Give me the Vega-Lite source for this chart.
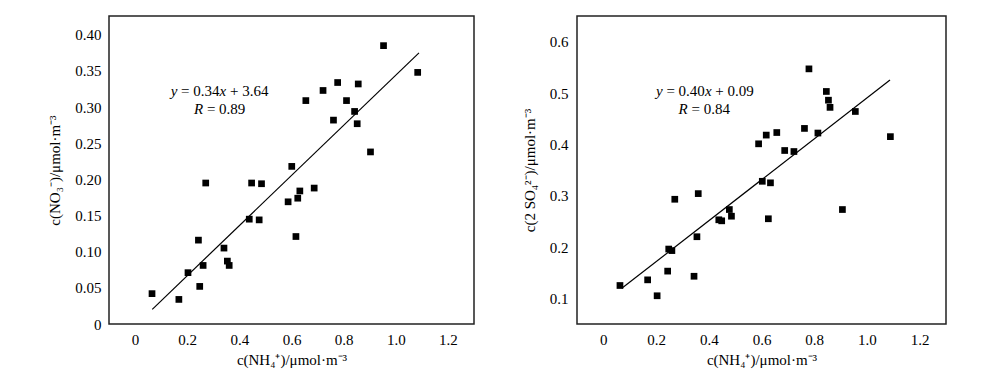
{
  "$schema": "https://vega.github.io/schema/vega-lite/v6.json",
  "padding": {"left": 47, "top": 15, "right": 5, "bottom": 5},
  "spacing": 46,
  "background": "white",
  "config": {
    "font": "Liberation Serif",
    "view": {"stroke": "#222", "strokeWidth": 1.5},
    "text": {"font": "Liberation Serif", "fontSize": 15, "color": "#000", "align": "left", "baseline": "alphabetic"},
    "axis": {
      "domain": false, "grid": false, "ticks": false,
      "labelPadding": 8, "labelFontSize": 15, "labelColor": "#000", "labelFont": "Liberation Serif",
      "titleFont": "Liberation Serif", "titleFontSize": 15, "titleFontWeight": "normal", "titleColor": "#000", "titlePadding": 12
    }
  },
  "hconcat": [
    {
      "width": 365, "height": 308,
      "encoding": {
        "x": {"field": "x", "type": "quantitative", "scale": {"domain": [-0.1, 1.3], "nice": false, "zero": false},
              "axis": {"title": "c(NH₄⁺)/μmol·m⁻³", "values": [0, 0.2, 0.4, 0.6, 0.8, 1.0, 1.2], "labelExpr": "datum.value == 0 ? '0' : format(datum.value, '.1f')", "titlePadding": 5}},
        "y": {"field": "y", "type": "quantitative", "scale": {"domain": [0, 0.426], "nice": false, "zero": false},
              "axis": {"title": "c(NO₃⁻)/μmol·m⁻³", "values": [0, 0.05, 0.1, 0.15, 0.2, 0.25, 0.3, 0.35, 0.4], "labelExpr": "datum.value == 0 ? '0' : format(datum.value, '.2f')"}}
      },
      "layer": [
        {
          "data": {"values": [{"y": 0}, {"y": 0.05}, {"y": 0.1}, {"y": 0.15}, {"y": 0.2}, {"y": 0.25}, {"y": 0.3}, {"y": 0.35}, {"y": 0.4}]},
          "mark": {"type": "rule", "color": "#000", "strokeWidth": 1.4},
          "encoding": {"x": {"datum": -0.1, "type": "quantitative"}, "x2": {"datum": -0.0732}}
        },
        {
          "data": {"values": [{"x": 0}, {"x": 0.2}, {"x": 0.4}, {"x": 0.6}, {"x": 0.8}, {"x": 1.0}, {"x": 1.2}]},
          "mark": {"type": "rule", "color": "#000", "strokeWidth": 1.4},
          "encoding": {"y": {"datum": 0, "type": "quantitative"}, "y2": {"datum": 0.00968}}
        },
        {
          "data": {"values": [
            {"x": 0.065, "y": 0.042}, {"x": 0.168, "y": 0.034}, {"x": 0.203, "y": 0.071}, {"x": 0.248, "y": 0.052},
            {"x": 0.243, "y": 0.116}, {"x": 0.261, "y": 0.081}, {"x": 0.271, "y": 0.195}, {"x": 0.341, "y": 0.105},
            {"x": 0.354, "y": 0.087}, {"x": 0.361, "y": 0.081}, {"x": 0.438, "y": 0.145}, {"x": 0.447, "y": 0.195},
            {"x": 0.476, "y": 0.144}, {"x": 0.485, "y": 0.194}, {"x": 0.587, "y": 0.169}, {"x": 0.601, "y": 0.218},
            {"x": 0.617, "y": 0.121}, {"x": 0.624, "y": 0.174}, {"x": 0.632, "y": 0.184}, {"x": 0.687, "y": 0.188},
            {"x": 0.655, "y": 0.309}, {"x": 0.721, "y": 0.323}, {"x": 0.761, "y": 0.282}, {"x": 0.777, "y": 0.334},
            {"x": 0.811, "y": 0.309}, {"x": 0.842, "y": 0.294}, {"x": 0.852, "y": 0.277}, {"x": 0.856, "y": 0.332},
            {"x": 0.903, "y": 0.238}, {"x": 0.953, "y": 0.385}, {"x": 1.084, "y": 0.348}
          ]},
          "mark": {"type": "point", "shape": "square", "filled": true, "color": "#000", "opacity": 1, "size": 45}
        },
        {
          "data": {"values": [{"x": 0.066, "y": 0.0203}, {"x": 1.089, "y": 0.375}]},
          "mark": {"type": "line", "color": "#000", "strokeWidth": 1.2}
        },
        {"data": {"values": [{"x": 0.1367, "y": 0.3154}]}, "mark": {"type": "text", "fontStyle": "italic"}, "encoding": {"text": {"value": "y"}}},
        {"data": {"values": [{"x": 0.1367, "y": 0.3154}]}, "mark": {"type": "text", "dx": 10.4}, "encoding": {"text": {"value": "= 0.34"}}},
        {"data": {"values": [{"x": 0.1367, "y": 0.3154}]}, "mark": {"type": "text", "fontStyle": "italic", "dx": 48.9}, "encoding": {"text": {"value": "x"}}},
        {"data": {"values": [{"x": 0.1367, "y": 0.3154}]}, "mark": {"type": "text", "dx": 59.3}, "encoding": {"text": {"value": "+ 3.64"}}},
        {"data": {"values": [{"x": 0.226, "y": 0.290}]}, "mark": {"type": "text", "fontStyle": "italic"}, "encoding": {"text": {"value": "R"}}},
        {"data": {"values": [{"x": 0.226, "y": 0.290}]}, "mark": {"type": "text", "dx": 12.9}, "encoding": {"text": {"value": "= 0.89"}}}
      ]
    },
    {
      "width": 369, "height": 308,
      "encoding": {
        "x": {"field": "x", "type": "quantitative", "scale": {"domain": [-0.1, 1.3], "nice": false, "zero": false},
              "axis": {"title": "c(NH₄⁺)/μmol·m⁻³", "values": [0, 0.2, 0.4, 0.6, 0.8, 1.0, 1.2], "labelExpr": "datum.value == 0 ? '0' : format(datum.value, '.1f')", "titlePadding": 5}},
        "y": {"field": "y", "type": "quantitative", "scale": {"domain": [0.05, 0.65], "nice": false, "zero": false},
              "axis": {"title": "c(2 SO₄²⁻)/μmol·m⁻³", "values": [0.1, 0.2, 0.3, 0.4, 0.5, 0.6], "labelExpr": "format(datum.value, '.1f')", "labelPadding": 9}}
      },
      "layer": [
        {
          "data": {"values": [{"y": 0.1}, {"y": 0.2}, {"y": 0.3}, {"y": 0.4}, {"y": 0.5}, {"y": 0.6}]},
          "mark": {"type": "rule", "color": "#000", "strokeWidth": 1.4},
          "encoding": {"x": {"datum": -0.1, "type": "quantitative"}, "x2": {"datum": -0.0734}}
        },
        {
          "data": {"values": [{"x": 0}, {"x": 0.2}, {"x": 0.4}, {"x": 0.6}, {"x": 0.8}, {"x": 1.0}, {"x": 1.2}]},
          "mark": {"type": "rule", "color": "#000", "strokeWidth": 1.4},
          "encoding": {"y": {"datum": 0.05, "type": "quantitative"}, "y2": {"datum": 0.0636}}
        },
        {
          "data": {"values": [
            {"x": 0.063, "y": 0.125}, {"x": 0.168, "y": 0.136}, {"x": 0.204, "y": 0.105}, {"x": 0.244, "y": 0.153},
            {"x": 0.248, "y": 0.196}, {"x": 0.260, "y": 0.193}, {"x": 0.271, "y": 0.293}, {"x": 0.344, "y": 0.143},
            {"x": 0.355, "y": 0.220}, {"x": 0.360, "y": 0.304}, {"x": 0.438, "y": 0.253}, {"x": 0.449, "y": 0.251},
            {"x": 0.478, "y": 0.273}, {"x": 0.486, "y": 0.260}, {"x": 0.589, "y": 0.401}, {"x": 0.603, "y": 0.328},
            {"x": 0.626, "y": 0.255}, {"x": 0.618, "y": 0.418}, {"x": 0.634, "y": 0.325}, {"x": 0.688, "y": 0.388},
            {"x": 0.658, "y": 0.423}, {"x": 0.723, "y": 0.386}, {"x": 0.763, "y": 0.431}, {"x": 0.780, "y": 0.547},
            {"x": 0.814, "y": 0.422}, {"x": 0.846, "y": 0.503}, {"x": 0.854, "y": 0.486}, {"x": 0.860, "y": 0.472},
            {"x": 0.907, "y": 0.273}, {"x": 0.956, "y": 0.464}, {"x": 1.089, "y": 0.415}
          ]},
          "mark": {"type": "point", "shape": "square", "filled": true, "color": "#000", "opacity": 1, "size": 45}
        },
        {
          "data": {"values": [{"x": 0.070, "y": 0.1195}, {"x": 1.0875, "y": 0.5253}]},
          "mark": {"type": "line", "color": "#000", "strokeWidth": 1.2}
        },
        {"data": {"values": [{"x": 0.1997, "y": 0.4942}]}, "mark": {"type": "text", "fontStyle": "italic"}, "encoding": {"text": {"value": "y"}}},
        {"data": {"values": [{"x": 0.1997, "y": 0.4942}]}, "mark": {"type": "text", "dx": 10.4}, "encoding": {"text": {"value": "= 0.40"}}},
        {"data": {"values": [{"x": 0.1997, "y": 0.4942}]}, "mark": {"type": "text", "fontStyle": "italic", "dx": 48.9}, "encoding": {"text": {"value": "x"}}},
        {"data": {"values": [{"x": 0.1997, "y": 0.4942}]}, "mark": {"type": "text", "dx": 59.3}, "encoding": {"text": {"value": "+ 0.09"}}},
        {"data": {"values": [{"x": 0.2855, "y": 0.4585}]}, "mark": {"type": "text", "fontStyle": "italic"}, "encoding": {"text": {"value": "R"}}},
        {"data": {"values": [{"x": 0.2855, "y": 0.4585}]}, "mark": {"type": "text", "dx": 12.9}, "encoding": {"text": {"value": "= 0.84"}}}
      ]
    }
  ]
}
